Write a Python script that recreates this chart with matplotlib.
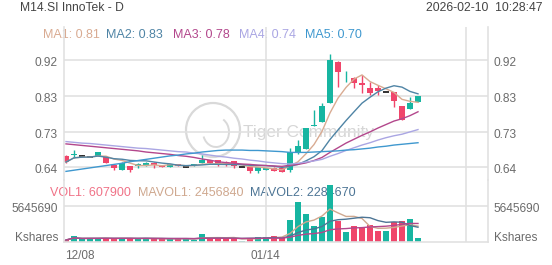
"""Daily candlestick chart for M14.SI InnoTek with MA lines and a volume panel."""

import matplotlib
matplotlib.use("Agg")
import matplotlib.pyplot as plt
from matplotlib.patches import Circle, Arc
from matplotlib.transforms import IdentityTransform, offset_copy
import numpy as np
import pandas as pd

plt.rcParams["font.family"] = ["Liberation Sans", "DejaVu Sans"]

TITLE = "M14.SI InnoTek - D"
STAMP = "2026-02-10  10:28:47"

# daily OHLC, 12/08 -> 02/10
opens = [0.670, 0.673, 0.670, 0.668, 0.670, 0.667, 0.6465, 0.634, 0.644, 0.644,
         0.6465, 0.652, 0.6465, 0.641, 0.649, 0.642, 0.644, 0.652, 0.659, 0.659,
         0.654, 0.657, 0.641, 0.641, 0.631, 0.634, 0.639, 0.639, 0.634, 0.677,
         0.688, 0.748, 0.758, 0.807, 0.913, 0.878, 0.871, 0.858, 0.845, 0.845,
         0.835, 0.835, 0.799, 0.791, 0.809]
closes = [0.654, 0.676, 0.670, 0.668, 0.680, 0.652, 0.639, 0.652, 0.634, 0.649,
          0.652, 0.6465, 0.641, 0.649, 0.644, 0.642, 0.649, 0.659, 0.652, 0.6465,
          0.649, 0.644, 0.641, 0.631, 0.641, 0.638, 0.631, 0.629, 0.680, 0.6955,
          0.742, 0.750, 0.799, 0.918, 0.887, 0.880, 0.858, 0.853, 0.8325, 0.838,
          0.835, 0.812, 0.763, 0.807, 0.825]
highs = [0.672, 0.685, 0.671, 0.669, 0.681, 0.668, 0.647, 0.653, 0.645, 0.652,
         0.653, 0.653, 0.647, 0.650, 0.650, 0.643, 0.650, 0.672, 0.660, 0.660,
         0.657, 0.658, 0.642, 0.642, 0.642, 0.639, 0.640, 0.640, 0.690, 0.711,
         0.743, 0.789, 0.807, 0.933, 0.914, 0.889, 0.874, 0.879, 0.861, 0.853,
         0.836, 0.836, 0.800, 0.822, 0.826]
lows = [0.651, 0.665, 0.669, 0.667, 0.669, 0.651, 0.634, 0.633, 0.629, 0.639,
        0.645, 0.639, 0.640, 0.640, 0.643, 0.641, 0.643, 0.651, 0.651, 0.645,
        0.644, 0.639, 0.640, 0.627, 0.627, 0.633, 0.630, 0.628, 0.628, 0.676,
        0.687, 0.747, 0.757, 0.806, 0.848, 0.861, 0.845, 0.8325, 0.827, 0.827,
        0.834, 0.796, 0.762, 0.790, 0.808]
volumes = [310000, 940000, 420000, 580000, 580000, 580000, 550000, 580000, 580000, 450000,
           580000, 580000, 450000, 400000, 550000, 580000, 350000, 1300000, 550000, 630000,
           470000, 550000, 160000, 670000, 780000, 780000, 940000, 670000, 3400000, 6160000,
           4340000, 2400000, 3810000, 8780000, 3180000, 1600000, 2450000, 2200000, 2620000, 1692500,
           1730000, 3030000, 3290000, 3626300, 607900]

# longer averages (they need history before 12/08)
ma3 = [0.701, 0.699, 0.697, 0.695, 0.693, 0.691, 0.689, 0.687, 0.685, 0.683,
       0.680, 0.678, 0.676, 0.674, 0.671, 0.669, 0.666, 0.662, 0.659, 0.655,
       0.6525, 0.651, 0.649, 0.648, 0.646, 0.645, 0.644, 0.643, 0.646, 0.648,
       0.652, 0.658, 0.666, 0.679, 0.691, 0.703, 0.713, 0.723, 0.732, 0.742,
       0.751, 0.760, 0.766, 0.774, 0.784]
ma4 = [0.707, 0.705, 0.703, 0.702, 0.700, 0.698, 0.696, 0.694, 0.692, 0.690,
       0.689, 0.687, 0.685, 0.683, 0.681, 0.680, 0.677, 0.675, 0.672, 0.669,
       0.667, 0.664, 0.662, 0.659, 0.657, 0.654, 0.652, 0.650, 0.649, 0.651,
       0.654, 0.657, 0.661, 0.669, 0.676, 0.684, 0.691, 0.698, 0.704, 0.711,
       0.717, 0.722, 0.726, 0.732, 0.738]
ma5 = [0.630, 0.633, 0.636, 0.639, 0.642, 0.645, 0.648, 0.651, 0.655, 0.658,
       0.661, 0.664, 0.667, 0.670, 0.672, 0.675, 0.677, 0.680, 0.682, 0.684,
       0.685, 0.685, 0.685, 0.684, 0.684, 0.683, 0.682, 0.681, 0.679, 0.679,
       0.679, 0.680, 0.681, 0.682, 0.683, 0.685, 0.686, 0.688, 0.690, 0.693,
       0.695, 0.698, 0.700, 0.702, 0.704]

price_ticks = [0.64, 0.7325, 0.825, 0.9175]
price_labels = ["0.64", "0.73", "0.83", "0.92"]
vol_tick = 5645690
date_ticks = [0, 25]
date_labels = ["12/08", "01/14"]

UP = "#17b5a1"
DOWN = "#f0456a"
GRID = "#e1e1e1"
LABEL = "#6b6b6b"
MA_COLORS = ["#d9ab92", "#4f84a5", "#b3478c", "#aaa6e3", "#3f98cf"]
VOL_COLORS = ["#f07287", "#cfa88f", "#4d7595"]

W, H = 552, 265

close_s = pd.Series(closes)
ma1 = close_s.rolling(5, min_periods=1).mean().values
ma2 = close_s.rolling(10, min_periods=1).mean().values
vol_s = pd.Series(volumes, dtype=float)
mavol1 = vol_s.rolling(5, min_periods=1).mean().values
mavol2 = vol_s.rolling(10, min_periods=1).mean().values
mavol3 = vol_s.rolling(20, min_periods=1).mean().values

x = np.arange(len(closes))
o = np.array(opens)
c = np.array(closes)
up = c > o
down = c < o
flat = c == o

fig = plt.figure(figsize=(W / 100, H / 100), dpi=100)
fig.patch.set_facecolor("white")

ax = fig.add_axes([64 / W, 1 - 180 / H, 424 / W, 153 / H])
axv = fig.add_axes([64 / W, 1 - 242 / H, 424 / W, 62 / H], sharex=ax)

for a in (ax, axv):
    a.set_facecolor("none")
    a.set_axisbelow(True)
    a.tick_params(length=0, labelleft=False, labelbottom=False)
    a.set_xticks([25, 50])
    a.grid(True, color=GRID, lw=1.2)
    for side in ("left", "right"):
        a.spines[side].set_color(GRID)
        a.spines[side].set_linewidth(1.2)
    a.spines["top"].set_visible(False)
    a.spines["bottom"].set_visible(False)
axv.spines["bottom"].set_visible(True)
axv.spines["bottom"].set_color(GRID)
axv.spines["bottom"].set_linewidth(1.2)

ax.set_xlim(-0.25, 52.75)
ax.set_ylim(0.6077, 1.003)
ax.set_yticks(price_ticks)
axv.set_ylim(0, vol_tick * 62 / 36.5)
axv.set_yticks([vol_tick])

# candles
body_w = 0.72
for mask, col in ((up, UP), (down, DOWN)):
    ax.vlines(x[mask], np.array(lows)[mask], np.array(highs)[mask], color=col, lw=1, zorder=2)
    ax.bar(x[mask], np.abs(c - o)[mask], bottom=np.minimum(o, c)[mask],
           width=body_w, color=col, zorder=2.1)
ax.vlines(x[flat], np.array(lows)[flat], np.array(highs)[flat], color="#222222", lw=1, zorder=2)
ax.hlines(c[flat], x[flat] - body_w / 2, x[flat] + body_w / 2, color="#222222", lw=1.3, zorder=2.1)

for vals, col in zip([ma1, ma2, ma3, ma4, ma5], MA_COLORS):
    ax.plot(x, vals, color=col, lw=1, zorder=3)

# volume
vcol = np.where(down, DOWN, UP)
axv.bar(x, volumes, width=body_w, color=vcol, zorder=2)
for vals, col in zip([mavol1, mavol2, mavol3], [VOL_COLORS[1], VOL_COLORS[2], MA_COLORS[2]]):
    axv.plot(x, vals, color=col, lw=1, zorder=3)

# axis labels
ytr = ax.get_yaxis_transform()
for v, lab in zip(price_ticks, price_labels):
    t = offset_copy(ytr, fig=fig, y=-3, units="dots")
    ax.text(-6 / 424, v, lab, transform=t, ha="right", va="center", fontsize=8.6, color=LABEL)
    ax.text(1 + 6 / 424, v, lab, transform=t, ha="left", va="center", fontsize=8.6, color=LABEL)

vtr = axv.get_yaxis_transform()
for v, lab, dy in ((vol_tick, f"{vol_tick}", -3), (0, "Kshares", 4)):
    t = offset_copy(vtr, fig=fig, y=dy, units="dots")
    axv.text(-6 / 424, v, lab, transform=t, ha="right", va="center", fontsize=8.6, color=LABEL)
    axv.text(1 + 6 / 424, v, lab, transform=t, ha="left", va="center", fontsize=8.6, color=LABEL)

xtr = axv.get_xaxis_transform()
for pos, lab, ha in zip(date_ticks, date_labels, ["left", "center"]):
    t = offset_copy(xtr, fig=fig, y=-14, units="dots")
    axv.text(pos - 0.1, 0, lab, transform=t, ha=ha, va="center", fontsize=8.5, color=LABEL)

# header
fig.text(20 / W, 1 - 8 / H, TITLE, ha="left", va="center", fontsize=8.7, color="#444444")
fig.text(543 / W, 1 - 8 / H, STAMP, ha="right", va="center", fontsize=8.7, color="#444444")

ma_vals = [ma1[-1], ma2[-1], ma3[-1], ma4[-1], ma5[-1]]
ma_x = [43, 106, 173, 239, 305]
for i, (xx, v, col) in enumerate(zip(ma_x, ma_vals, MA_COLORS)):
    fig.text(xx / W, 1 - 35 / H, f"MA{i + 1}: {v:.2f}", ha="left", va="center",
             fontsize=9, color=col, zorder=-1)

vol_txt = [f"VOL1: {volumes[-1]}", f"MAVOL1: {mavol1[-1]:.0f}", f"MAVOL2: {mavol2[-1]:.0f}"]
vol_x = [50, 138, 250]
for xx, s, col in zip(vol_x, vol_txt, VOL_COLORS):
    fig.text(xx / W, 1 - 193 / H, s, ha="left", va="center", fontsize=9, color=col, zorder=-1)

# watermark
ax.add_patch(Circle((213, H - 130), 27, transform=IdentityTransform(), fill=False,
                    ec="#d9d9d9", lw=1.6, zorder=0.4, clip_on=False))
ax.add_patch(Arc((216, H - 132), 26, 30, theta1=200, theta2=60, transform=IdentityTransform(),
                 ec="#d9d9d9", lw=1.4, zorder=0.4, clip_on=False))
fig.text(243 / W, 1 - 133 / H, "Tiger Community", ha="left", va="center",
         fontsize=12.4, color="#d6d6d6", zorder=-1)

fig.savefig("out.png", dpi=100)
